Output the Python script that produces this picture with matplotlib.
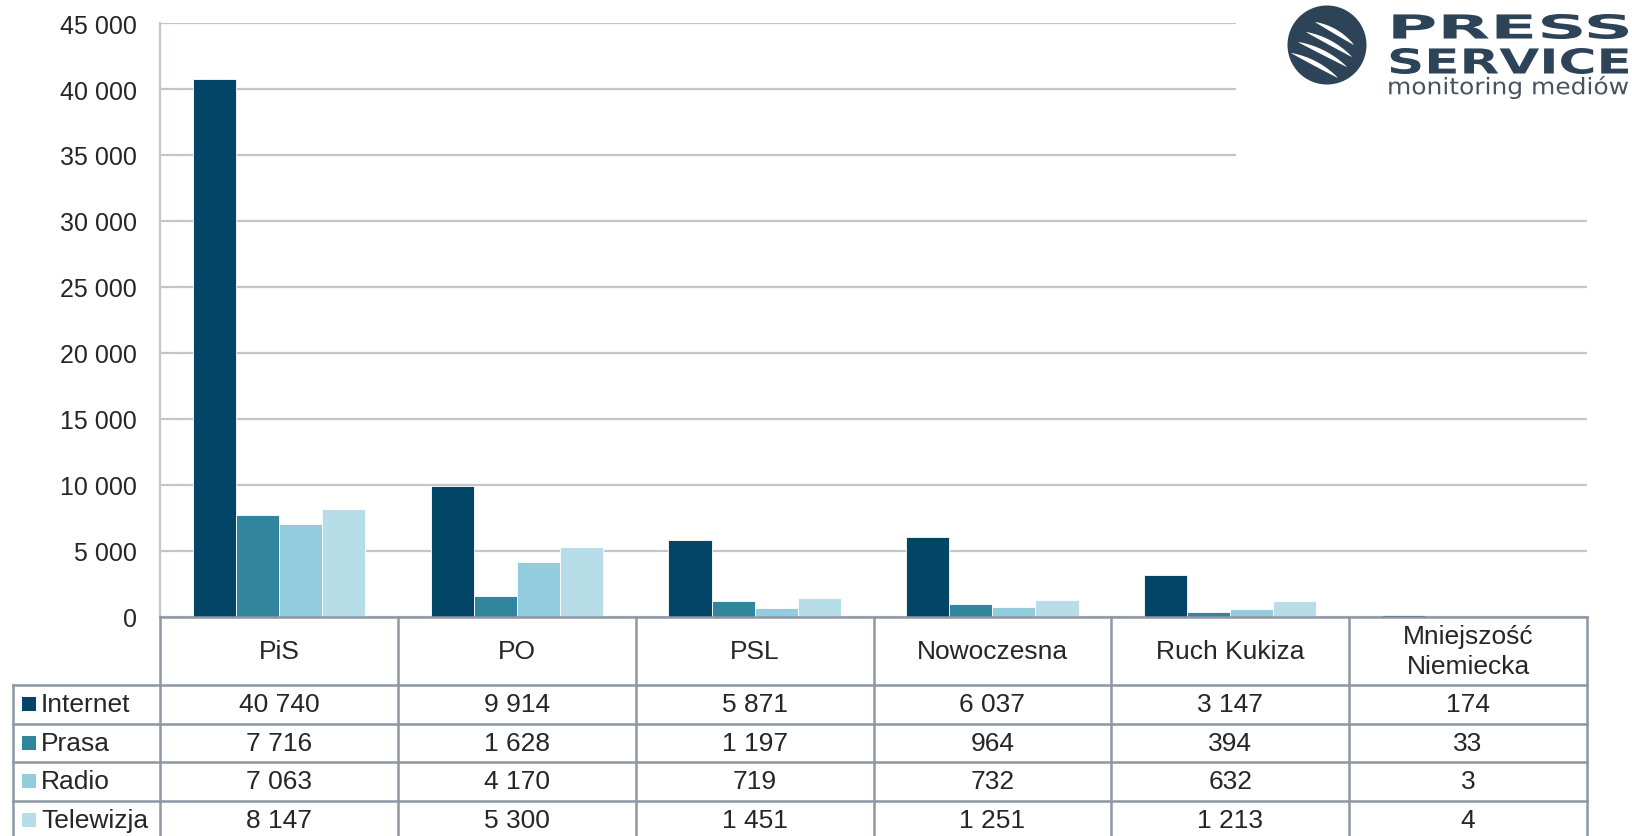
import numpy as np
import matplotlib

matplotlib.use("Agg")
import matplotlib.pyplot as plt  # noqa: E402
from matplotlib.font_manager import FontProperties  # noqa: E402
from matplotlib.patches import Circle, PathPatch, Polygon, Rectangle  # noqa: E402
from matplotlib.path import Path  # noqa: E402
from matplotlib.textpath import TextPath  # noqa: E402
from matplotlib.transforms import Affine2D  # noqa: E402

categories = ["PiS", "PO", "PSL", "Nowoczesna", "Ruch Kukiza", "Mniejszość\nNiemiecka"]
series_names = ["Internet", "Prasa", "Radio", "Telewizja"]
internet = [40740, 9914, 5871, 6037, 3147, 174]
prasa = [7716, 1628, 1197, 964, 394, 33]
radio = [7063, 4170, 719, 732, 632, 3]
telewizja = [8147, 5300, 1451, 1251, 1213, 4]
y_ticks = [0, 5000, 10000, 15000, 20000, 25000, 30000, 35000, 40000, 45000]

colors = ["#034566", "#31869e", "#93cddd", "#b7dee8"]
TEXT = "#262626"
GRID = "#c3c7cb"
BORDER = "#8e97a2"
LOGO = "#2c4358"
LOGO_SUB = "#46525e"
TICK_SIZE = 18
TABLE_SIZE = 19

W, H = 1632, 837
fig = plt.figure(figsize=(W / 100, H / 100), dpi=100)
px = Affine2D().scale(1 / W, -1 / H).translate(0, 1) + fig.transFigure

plt.rcParams["font.family"] = ["Liberation Sans", "DejaVu Sans"]

# plot area in pixels
left, right, top, bottom = 160, 1587, 24, 618
ax = fig.add_axes([left / W, 1 - bottom / H, (right - left) / W, (bottom - top) / H])

values = [internet, prasa, radio, telewizja]
x = np.arange(len(categories)) + 0.5
bar_w = 0.181
for i, (name, vals) in enumerate(zip(series_names, values)):
    ax.bar(x + (i - 1.5) * bar_w, vals, width=bar_w, color=colors[i], edgecolor="white",
           linewidth=0.6, zorder=3, label=name)

ax.set_xlim(0, len(categories))
ax.set_ylim(0, 45000)
ax.set_yticks(y_ticks)
ax.set_yticklabels([f"{v:,}".replace(",", " ") for v in y_ticks], fontsize=TICK_SIZE, color=TEXT)
ax.tick_params(axis="y", length=0, pad=16.5)
ax.set_xticks([])
ax.grid(axis="y", color=GRID, linewidth=1.6, zorder=0)
for side in ("top", "right", "bottom"):
    ax.spines[side].set_visible(False)
ax.spines["left"].set_color(GRID)
ax.spines["left"].set_linewidth(1.6)

# data table below the plot
col_w = (right - left) / len(categories)
row_edges = [bottom, 686, 724.5, 763, 802, 841]
tbl_left = 13


def hline(y, x0, x1):
    fig.add_artist(plt.Line2D([x0, x1], [y, y], transform=px, color=BORDER, linewidth=1.8))


def vline(xv, y0, y1):
    fig.add_artist(plt.Line2D([xv, xv], [y0, y1], transform=px, color=BORDER, linewidth=1.8))


hline(bottom, left, right)
for y in row_edges[1:]:
    hline(y, tbl_left, right)
for k in range(len(categories) + 1):
    vline(left + k * col_w, bottom, H)
vline(tbl_left, row_edges[1], H)

for k, cat in enumerate(categories):
    cx = left + (k + 0.5) * col_w
    fig.text(cx / W, 1 - (bottom + row_edges[1]) / 2 / H, cat, ha="center", va="center",
             fontsize=TABLE_SIZE, color=TEXT, linespacing=1.35)
    for r, vals in enumerate(values):
        cy = (row_edges[r + 1] + row_edges[r + 2]) / 2
        fig.text(cx / W, 1 - cy / H, f"{vals[k]:,}".replace(",", " "), ha="center", va="center",
                 fontsize=TABLE_SIZE, color=TEXT)

for r, name in enumerate(series_names):
    cy = (row_edges[r + 1] + row_edges[r + 2]) / 2
    fig.add_artist(Rectangle((22, cy - 7), 14, 14, transform=px, facecolor=colors[r], edgecolor="none"))
    fig.text(41 / W, 1 - cy / H, name, ha="left", va="center", fontsize=TABLE_SIZE, color=TEXT)

# logo area (white box covers the top gridlines)
fig.add_artist(Rectangle((1236, 0), W - 1236, 160, transform=px, facecolor="white",
                         edgecolor="none", zorder=5))
circle = Circle((1327, 46), 39.5, transform=px, facecolor=LOGO, edgecolor="none", zorder=6)
fig.add_artist(circle)

stripes = [((1315, 23), (1354, 46)), ((1306, 33), (1352, 58)),
           ((1298, 43), (1347, 68)), ((1291, 54), (1338, 79))]
for p0, p2 in stripes:
    p0, p2 = np.array(p0, float), np.array(p2, float)
    chord = p2 - p0
    nrm = np.array([chord[1], -chord[0]]) / np.hypot(*chord)
    p1 = (p0 + p2) / 2 + nrm * 4
    t = np.linspace(0, 1, 40)[:, None]
    pts = (1 - t) ** 2 * p0 + 2 * (1 - t) * t * p1 + t ** 2 * p2
    d = np.gradient(pts, axis=0)
    n = np.column_stack([d[:, 1], -d[:, 0]]) / np.hypot(d[:, 0], d[:, 1])[:, None]
    thick = 2.3 * np.sin(np.pi * t[:, 0]) ** 0.8
    poly = np.vstack([pts + n * thick[:, None], (pts - n * thick[:, None])[::-1]])
    patch = Polygon(poly, closed=True, transform=px, facecolor="white", edgecolor="none", zorder=7)
    fig.add_artist(patch)
    patch.set_clip_path(circle)


def fit_text(s, box, weight="normal", color=LOGO):
    tp = TextPath((0, 0), s, size=40, prop=FontProperties(family="DejaVu Sans", weight=weight))
    v = tp.vertices
    bx0, by0 = v[:, 0].min(), v[:, 1].min()
    bx1, by1 = v[:, 0].max(), v[:, 1].max()
    x0, y0, x1, y1 = box
    nv = np.column_stack([x0 + (v[:, 0] - bx0) * (x1 - x0) / (bx1 - bx0),
                          y1 - (v[:, 1] - by0) * (y1 - y0) / (by1 - by0)])
    fig.add_artist(PathPatch(Path(nv, tp.codes), transform=px, facecolor=color,
                             edgecolor="none", zorder=7))


fit_text("PRESS", (1387, 15, 1628, 40), weight="heavy")
fit_text("SERVICE", (1387, 49, 1628, 75), weight="heavy")
fit_text("monitoring mediów", (1387, 77, 1628, 100), color=LOGO_SUB)

fig.savefig("out.png", dpi=100)
